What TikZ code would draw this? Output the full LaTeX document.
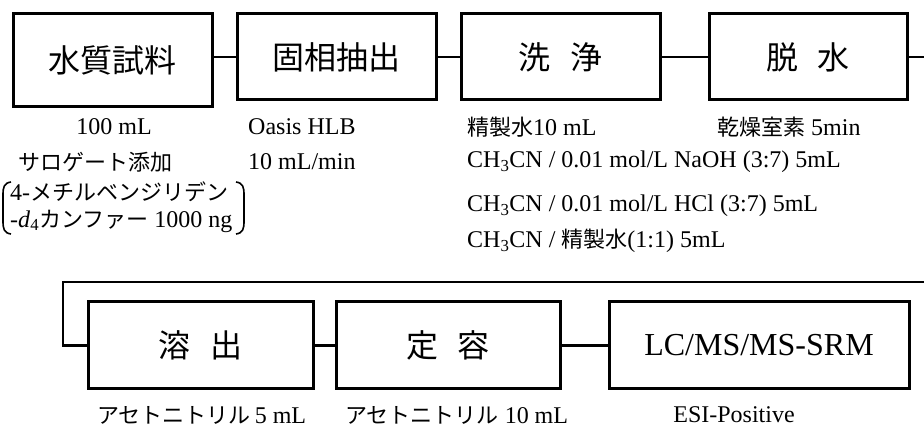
\documentclass[tikz,border=0pt]{standalone}
\usepackage{fontspec}
\setmainfont{Liberation Serif}
\newfontfamily\jp{Noto Sans CJK JP}
\tikzset{
  box/.style={draw, line width=3pt, rectangle, inner sep=0pt, align=center,
    font=\fontsize{32}{36}\selectfont},
  conn/.style={line width=2.5pt},
  lbl/.style={inner sep=0pt, anchor=west, font=\fontsize{24}{28}\selectfont},
  brk/.style={line width=1.6pt}
}
\newcommand{\J}[1]{{\jp\fontsize{22}{26}\selectfont #1}}
\newcommand{\BJ}[1]{{\jp #1}}
\begin{document}
\begin{tikzpicture}[x=1pt,y=-1pt]
\useasboundingbox (0,0) rectangle (924,427);
% top row
\node[box, minimum width=199pt, minimum height=93pt] (b1) at (112.5,60.5) {\BJ{水質試料}};
\node[box, minimum width=199pt, minimum height=86pt] (b2) at (336.5,57) {\BJ{固相抽出}};
\node[box, minimum width=199pt, minimum height=86pt] (b3) at (560.5,57) {\BJ{洗\hspace{0.6em}浄}};
\node[box, minimum width=198pt, minimum height=86pt] (b4) at (808,57) {\BJ{脱\hspace{0.6em}水}};
% bottom row
\node[box, minimum width=225pt, minimum height=87pt] (b5) at (200.5,345.5) {\BJ{溶\hspace{0.6em}出}};
\node[box, minimum width=224pt, minimum height=87pt] (b6) at (448,345.5) {\BJ{定\hspace{0.6em}容}};
\node[box, minimum width=300pt, minimum height=87pt] (b7) at (759,345.5) {LC/MS/MS-SRM};
% connectors
\draw[conn] (b1.east |- b2.west) -- (b2.west);
\draw[conn] (b2) -- (b3);
\draw[conn] (b3) -- (b4);
\coordinate (e1) at (924,57);
\coordinate (e2) at (924,282);
\coordinate (c1) at (63,282);
\draw[conn] (b4.east) -- (e1);
\draw[conn] (e2) -- (c1) -- (c1 |- b5.west) -- (b5.west);
\draw[conn] (b5) -- (b6);
\draw[conn] (b6) -- (b7);
% labels
\node[lbl, anchor=center] (t1) at (114,127) {100 mL};
\node[lbl] (t2) at (18,162) {\J{サロゲート添加}};
\node[lbl] (t3) at (10,192) {4-\J{メチルベンジリデン}};
\node[lbl] (t4) at (10,221) {-\textit{d}\textsubscript{4}\J{カンファー} 1000 ng};
\draw[brk] (11,182) .. controls (4,183) and (3,187) .. (3,195) -- (3,221) .. controls (3,229) and (4,233) .. (11,234);
\draw[brk] (236,182) .. controls (243,183) and (244,187) .. (244,195) -- (244,221) .. controls (244,229) and (243,233) .. (236,234);
\node[lbl] (t5) at (248,127) {Oasis HLB};
\node[lbl] (t6) at (248,162) {10 mL/min};
\node[lbl] (t7) at (467,127) {\J{精製水}10 mL};
\node[lbl] (t8) at (717,127) {\J{乾燥室素} 5min};
\node[lbl] (t9) at (467,162) {CH\textsubscript{3}CN / 0.01 mol/L NaOH (3:7) 5mL};
\node[lbl] (t10) at (467,206) {CH\textsubscript{3}CN / 0.01 mol/L HCl (3:7) 5mL};
\node[lbl] (t11) at (467,241) {CH\textsubscript{3}CN / \J{精製水}(1:1) 5mL};
\node[lbl] (t12) at (97,415) {\J{アセトニトリル}\,5 mL};
\node[lbl] (t13) at (345,415) {\J{アセトニトリル} 10 mL};
\node[lbl, anchor=center] (t14) at (734,415) {ESI-Positive};
\end{tikzpicture}
\end{document}
